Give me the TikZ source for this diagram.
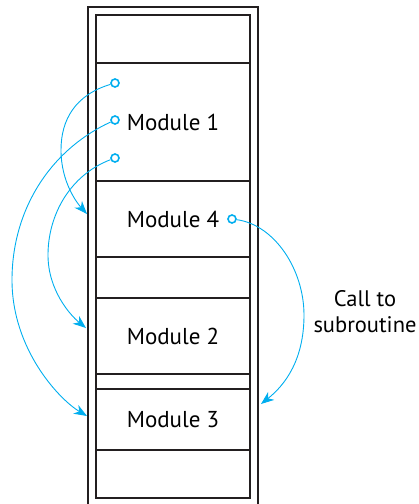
\documentclass[tikz,border=0pt]{standalone}
\usepackage{fontspec}
\setmainfont{PT Sans}
\usetikzlibrary{positioning,arrows.meta}
\definecolor{callblue}{RGB}{0,174,239}
\definecolor{inkgray}{RGB}{35,31,32}
\tikzset{
  seg/.style={draw=inkgray, line width=1.8pt, minimum width=154pt, inner sep=0pt,
    outer sep=0pt, font=\fontsize{23}{27}\selectfont},
  ret/.style={circle, draw=callblue, line width=1.6pt, fill=white, inner sep=0pt, minimum size=8pt},
  call/.style={draw=callblue, line width=0.9pt, -{Stealth[length=13pt,width=10pt,inset=4pt]}},
}
\begin{document}
\begin{tikzpicture}[x=1pt,y=-1pt]
  \useasboundingbox (0,0) rectangle (419,504);
  % memory column
  \draw [inkgray, line width=2.4pt] (88,504) -- (88,7) -- (258,7) -- (258,504);
  \node [seg, minimum height=48pt, anchor=north west] (top) at (96,15) {};
  \node [seg, minimum height=118pt, below=0pt of top] (m1) {Module 1};
  \node [seg, minimum height=76pt, below=0pt of m1] (m4) {Module 4};
  \node [seg, minimum height=41pt, below=0pt of m4] (gapa) {};
  \node [seg, minimum height=76pt, below=0pt of gapa] (m2) {Module 2};
  \node [seg, minimum height=15pt, below=0pt of m2] (gapb) {};
  \node [seg, minimum height=61pt, below=0pt of gapb] (m3) {Module 3};
  \node [seg, minimum height=48pt, below=0pt of m3] (bot) {};
  % call points
  \node [ret] (ca) at (115,83) {};
  \node [ret] (cb) at (115,120) {};
  \node [ret] (cc) at (115,158) {};
  \node [ret] (cd) at (232,219) {};
  \coordinate (in4) at (87,214);
  \coordinate (in2) at (86,328);
  \coordinate (in3) at (87,416);
  \coordinate (in3r) at (261,404);
  \draw [call] (ca) .. controls (75,95) and (61,120) .. (61,150)
    .. controls (61,182) and (77,203) .. (in4);
  \draw [call] (cb) .. controls (50,150) and (12,210) .. (12,280)
    .. controls (12,350) and (60,400) .. (in3);
  \draw [call] (cc) .. controls (70,175) and (48,215) .. (48,255)
    .. controls (48,290) and (70,315) .. (in2);
  \draw [call] (cd) .. controls (275,225) and (304,270) .. (304,315)
    .. controls (304,360) and (285,385) .. (in3r);
  \node [font=\fontsize{22.5}{26}\selectfont, align=center, inner sep=0pt] (lbl) at (365,312) {Call to\\subroutine};
\end{tikzpicture}
\end{document}
